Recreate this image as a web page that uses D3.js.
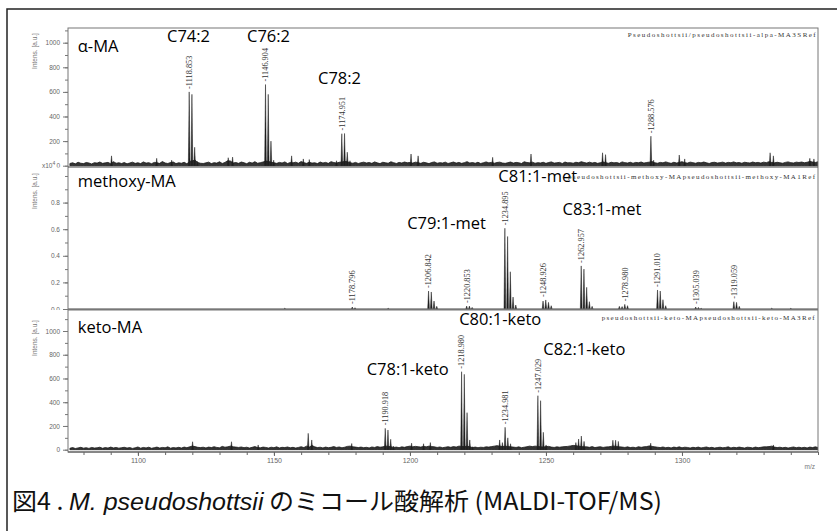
<!DOCTYPE html>
<html><head><meta charset="utf-8">
<script src="https://cdn.jsdelivr.net/npm/d3@7"></script>
<style>body{margin:0;background:#fff}svg{display:block}</style>
</head><body><svg id="c" width="837" height="531"></svg>
<script>
// ---------------- DATA ----------------
const noiseStart = 1075; // m/z of first noise value, step 1
const alphaNoise = [18,24,15,28,20,17,26,22,14,25, 21,30,19,23,27,16,33,20,24,18, 26,15,22,29,19,24,17,31,21,25,
 16,27,23,19,34,22,18,26,30,17, 24,20,28,15,35,40,45,26,20,18, 23,29,17,25,21,32,18,27,40,38,
 22,26,19,30,24,16,28,21,33,20, 25,30,38,35,28,24,19,27,22,31, 18,26,23,29,20,34,25,19,28,21,
 24,17,30,22,27,19,33,26,21,28, 30,35,32,25,20,27,18,24,29,22, 26,19,31,23,17,28,24,20,32,25,
 18,27,22,30,24,26,21,29,25,19, 28,23,17,26,31,20,25,22,29,18, 24,30,21,27,19,25,33,22,26,20,
 28,18,24,31,23,27,20,26,29,22, 19,25,30,21,27,24,18,32,26,23, 29,20,25,22,28,19,26,31,21,24,
 27,18,30,23,25,20,28,24,33,26, 21,29,22,27,19,25,30,24,20,28, 23,26,19,31,25,22,28,20,27,24,
 30,21,26,29,34,24,20,27,23,31, 25,19,28,22,26,33,24,21,29,25, 20,27,23,30,24,18,26,28,22,25,
 29,21,27,24,31,23,26,20,28,25, 22,30,24,27,21,29,25,33,26,23, 28,24,20,27,31,25,22,29,26,30,
 24,28,35,30,26,32];
const ketoNoise = [12,18,10,15,20,13,17,11,19,14, 16,21,12,18,14,22,15,19,13,17, 20,14,18,11,16,23,13,19,15,21,
 12,17,22,14,19,16,24,13,18,15, 20,14,22,17,24,30,26,20,18,21, 15,22,18,25,19,16,28,21,24,30,
 24,22,19,23,17,21,14,20,26,18, 16,22,19,14,21,17,24,15,20,18, 23,16,20,14,19,25,18,30,22,35,
 24,18,21,15,22,17,20,26,19,23, 16,21,28,30,24,22,18,22,17,20, 15,23,19,26,21,24,30,28,25,19,
 22,17,24,20,26,30,24,28,25,22, 28,24,30,26,24,19,23,17,21,25, 20,26,22,30,28,26,30,24,18,22,
 17,21,19,24,22,26,30,34,30,26, 30,26,24,22,19,24,17,21,25,30, 26,30,28,24,22,26,28,22,19,24,
 21,24,26,28,32,36,34,30,26,24, 24,20,26,18,22,25,19,23,24,28, 30,26,24,22,19,24,18,21,17,25,
 20,24,26,32,28,24,21,18,23,17, 20,15,22,18,24,16,21,19,14,20, 17,22,15,19,23,16,20,14,18,21,
 16,19,24,15,20,17,22,18,14,21, 19,15,22,17,20,24,24,26,30,22, 18,21,16,20,14,19,23,17,21,16,
 20,15,22,18,24,19];

const alphaPeaks = [[1118.853,600],[1119.856,580],[1120.86,150],[1121.86,35],
 [1146.904,660],[1147.907,580],[1148.91,200],[1149.91,45],
 [1174.951,260],[1175.954,262],[1176.96,110],[1177.96,40],
 [1288.576,240],[1289.58,45],
 [1090.3,80],[1106.9,60],[1112.4,45],[1133.2,65],[1134.8,70],[1156.5,80],[1160.8,55],[1163,50],[1173,40],
 [1200.4,95],[1203,80],[1230.4,68],[1244.5,95],[1270.8,105],[1271.9,90],[1299,87],[1301,55],
 [1332.4,105],[1333.6,80],[1347,60],[1348.5,55]];
const methoxyPeaks = [[1154,0.006],[1178.796,0.015],[1179.8,0.01],[1192,0.006],
 [1206.842,0.135],[1207.845,0.128],[1208.85,0.06],[1209.85,0.02],
 [1220.853,0.022],[1221.856,0.022],[1222.86,0.012],
 [1234.895,0.607],[1235.898,0.545],[1236.90,0.28],[1237.90,0.09],[1238.9,0.03],
 [1248.926,0.06],[1249.93,0.068],[1250.93,0.05],[1251.93,0.025],
 [1262.957,0.324],[1263.96,0.30],[1264.96,0.163],[1265.96,0.055],[1266.96,0.02],
 [1276.98,0.02],[1277.98,0.018],[1278.980,0.035],[1279.98,0.025],
 [1291.010,0.143],[1292.01,0.135],[1293.01,0.07],[1294.01,0.025],
 [1305.039,0.015],[1306.04,0.012],[1307.04,0.006],
 [1319.059,0.055],[1320.06,0.05],[1321.06,0.02],[1333,0.006],[1340,0.005]];
const ketoPeaks = [[1190.918,180],[1191.92,166],[1192.92,88],[1193.92,30],
 [1218.980,657],[1219.983,635],[1220.99,312],[1221.99,82],[1222.99,25],
 [1232.98,82],[1233.98,60],[1234.981,189],[1235.98,100],[1236.98,50],
 [1247.029,455],[1248.03,413],[1249.03,147],[1250.03,40],
 [1261.0,60],[1262.0,90],[1263.0,115],[1264.0,70],
 [1274.6,80],[1275.6,80],[1276.6,70],[1288.5,55],
 [1120.1,67],[1134.4,67],[1144.2,40],[1162.6,138],[1163.9,82],[1178.6,52],
 [1200.6,55],[1205,50],[1207.5,60],[1333.6,40]];

const alphaLabels = [1118.853,1146.904,1174.951,1288.576];
const methoxyLabels = [1178.796,1206.842,1220.853,1234.895,1248.926,1262.957,1278.980,1291.010,1305.039,1319.059];
const ketoLabels = [1190.918,1218.980,1234.981,1247.029];

// compound names with anchor [m/z, intensity]
const alphaNames = [["α-MA",1077.9,927],["C74:2",1110.7,1008],["C76:2",1140.1,1008],["C78:2",1166.2,662]];
const methoxyNames = [["methoxy-MA",1077.9,0.92],["C81:1-met",1232.5,0.952],["C83:1-met",1256.1,0.707],["C79:1-met",1199.0,0.602]];
const ketoNames = [["keto-MA",1077.9,981],["C80:1-keto",1218.1,1050],["C82:1-keto",1249.0,798],["C78:1-keto",1184.1,629]];

const alphaTicks = [0,200,400,600,800,1000];
const methoxyTicks = [0,0.2,0.4,0.6,0.8];
const ketoTicks = [0,200,400,600,800,1000];
const xTicks = [1100,1150,1200,1250,1300];

const fileNames = ["Pseudoshottsii/pseudoshottsii-alpa-MA3SRef",
  "pseudoshottsii-methoxy-MApseudoshottsii-methoxy-MA1Ref",
  "pseudoshottsii-keto-MApseudoshottsii-keto-MA3Ref"];

// ---------------- LAYOUT ----------------
const svg = d3.select("#c");
const L = 68, R = 818;
const x = d3.scaleLinear().domain([1074.3, 1350]).range([L, R]);

svg.append("rect").attr("x",7).attr("y",9).attr("width",900).attr("height",700)
  .attr("fill","none").attr("stroke","#222").attr("stroke-width",1.5);

const panels = [
  {top:28, bottom:167, y:d3.scaleLinear().domain([0,1119.5]).range([165.7,28]),
   noise:alphaNoise, peaks:alphaPeaks, labels:alphaLabels, names:alphaNames,
   ticks:alphaTicks, minor:d3.range(0,1101,100), fmt:d=>d, file:fileNames[0], fx:627.7, fw:188, fy:37,
   ylab:51, clipB:167.5},
  {top:167, bottom:309.5, y:d3.scaleLinear().domain([0,1.06]).range([309,168]),
   noise:null, peaks:methoxyPeaks, labels:methoxyLabels, names:methoxyNames,
   ticks:methoxyTicks, minor:d3.range(0,1.01,0.1), fmt:d3.format(".1f"), file:fileNames[1], fx:568, fw:247, fy:178.5,
   ylab:191, clipB:310},
  {top:309.5, bottom:452, y:d3.scaleLinear().domain([0,1177]).range([449.7,310]),
   noise:ketoNoise, peaks:ketoPeaks, labels:ketoLabels, names:ketoNames,
   ticks:ketoTicks, minor:d3.range(0,1101,100), fmt:d=>d, file:fileNames[2], fx:601.7, fw:213, fy:320,
   ylab:338, clipB:600}
];

const defs = svg.append("defs");
panels.forEach((p,i)=>{
  defs.append("clipPath").attr("id","cp"+i).append("rect")
    .attr("x",0).attr("y",p.top-20).attr("width",837).attr("height",p.clipB-(p.top-20));
  defs.append("clipPath").attr("id","pp"+i).append("rect")
    .attr("x",L).attr("y",p.top).attr("width",R-L).attr("height",p.bottom-p.top);
});

panels.forEach((p,i)=>{
  const g = svg.append("g").attr("clip-path",`url(#cp${i})`);
  const y = p.y;
  g.append("g").attr("transform",`translate(${L},0)`)
    .call(d3.axisLeft(y).tickValues(p.minor.filter(v=>v<=y.domain()[1])).tickSize(3).tickFormat(""))
    .call(a=>{a.select(".domain").remove(); a.selectAll("line").attr("stroke","#777");});
  g.append("g").attr("transform",`translate(${L},0)`)
    .call(d3.axisLeft(y).tickValues(p.ticks).tickSize(5).tickPadding(3).tickFormat(p.fmt))
    .call(a=>{a.select(".domain").remove(); a.selectAll("line").attr("stroke","#777");
      a.selectAll("text").attr("font-family","Liberation Sans, Arial").attr("font-size",6.5).attr("fill","#666");});
  g.append("text").attr("transform",`translate(37,${p.ylab}) rotate(-90)`)
    .attr("text-anchor","middle").attr("font-family","Liberation Sans, Arial").attr("font-size",6.5)
    .attr("fill","#777").text("Intens. [a.u.]");

  const pg = g.append("g").attr("clip-path",`url(#pp${i})`);
  if (p.noise){
    const ar = d3.area().x((d,k)=>x(noiseStart+k)).y0(y(0)).y1(d=>y(d));
    pg.append("path").attr("d",ar(p.noise)).attr("fill","#333").attr("stroke","#1a1a1a").attr("stroke-width",0.8);
  } else {
    pg.append("line").attr("x1",L).attr("x2",R).attr("y1",y(0)).attr("y2",y(0))
      .attr("stroke","#999").attr("stroke-width",1);
  }
  const tri = d3.line();
  pg.selectAll("path.pk").data(p.peaks).join("path").attr("class","pk")
    .attr("d",d=>tri([[x(d[0]-0.32),y(0)],[x(d[0]),y(d[1])],[x(d[0]+0.32),y(0)]]))
    .attr("fill","#1e1e1e").attr("stroke","#1e1e1e").attr("stroke-width",0.5);
  p.labels.forEach(m=>{
    const top = d3.max(p.peaks.filter(d=>d[0]>m-1.5 && d[0]<m+3), d=>d[1]);
    g.append("text").attr("transform",`translate(${x(m)},${y(top)-3}) rotate(-90)`)
      .attr("dy","0.35em").attr("font-family","Liberation Serif, Times New Roman").attr("font-size",8.3)
      .attr("fill","#333").text("-"+d3.format(".3f")(m));
  });
  p.names.forEach(n=>{
    g.append("text").attr("x",x(n[1])).attr("y",y(n[2]))
      .attr("font-family","Open Sans, Noto Sans, sans-serif").attr("font-size",16.5).attr("fill","#000").text(n[0]);
  });
  g.append("text").attr("x",p.fx).attr("y",p.fy).attr("textLength",p.fw).attr("lengthAdjust","spacing")
    .attr("font-family","Liberation Serif, Times New Roman").attr("font-size",7).attr("fill","#333").text(p.file);
});

svg.append("rect").attr("x",L).attr("y",28).attr("width",R-L).attr("height",452-28)
  .attr("fill","none").attr("stroke","#777").attr("stroke-width",1);
svg.append("line").attr("x1",L).attr("x2",R).attr("y1",167).attr("y2",167).attr("stroke","#444").attr("stroke-width",1.2);
svg.append("line").attr("x1",L).attr("x2",R).attr("y1",309.5).attr("y2",309.5).attr("stroke","#777").attr("stroke-width",2);
svg.append("line").attr("x1",L).attr("x2",R).attr("y1",452).attr("y2",452).attr("stroke","#555").attr("stroke-width",1.2);

// x10^4
const xt = svg.append("text").attr("x",42).attr("y",168).attr("font-family","Liberation Sans, Arial")
  .attr("font-size",6.5).attr("fill","#666");
xt.append("tspan").text("x10");
xt.append("tspan").attr("dy",-3).attr("font-size",5).text("4");

// x axis
svg.append("g").attr("transform","translate(0,452)")
  .call(d3.axisBottom(x).tickValues(d3.range(1080,1351,10)).tickSize(3).tickFormat(""))
  .call(a=>{a.select(".domain").remove(); a.selectAll("line").attr("stroke","#666");});
svg.append("g").attr("transform","translate(0,452)")
  .call(d3.axisBottom(x).tickValues(xTicks).tickSize(4).tickPadding(2.5).tickFormat(d=>d))
  .call(a=>{a.select(".domain").remove(); a.selectAll("line").attr("stroke","#666");
    a.selectAll("text").attr("font-family","Liberation Sans, Arial").attr("font-size",7).attr("fill","#666");});
svg.append("text").attr("x",815).attr("y",469).attr("text-anchor","end")
  .attr("font-family","Liberation Sans, Arial").attr("font-size",6.5).attr("fill","#777").text("m/z");

// caption
const cap = svg.append("text").attr("x",12).attr("y",510).attr("font-size",24)
  .attr("font-family","Noto Sans CJK JP, sans-serif").attr("fill","#111")
  .attr("textLength",650).attr("lengthAdjust","spacingAndGlyphs");
cap.append("tspan").text("図4 . ");
cap.append("tspan").attr("font-style","italic").attr("font-family","Liberation Sans, Arial").text("M. pseudoshottsii");
cap.append("tspan").text(" のミコール酸解析 (MALDI-TOF/MS)");
</script></body></html>
